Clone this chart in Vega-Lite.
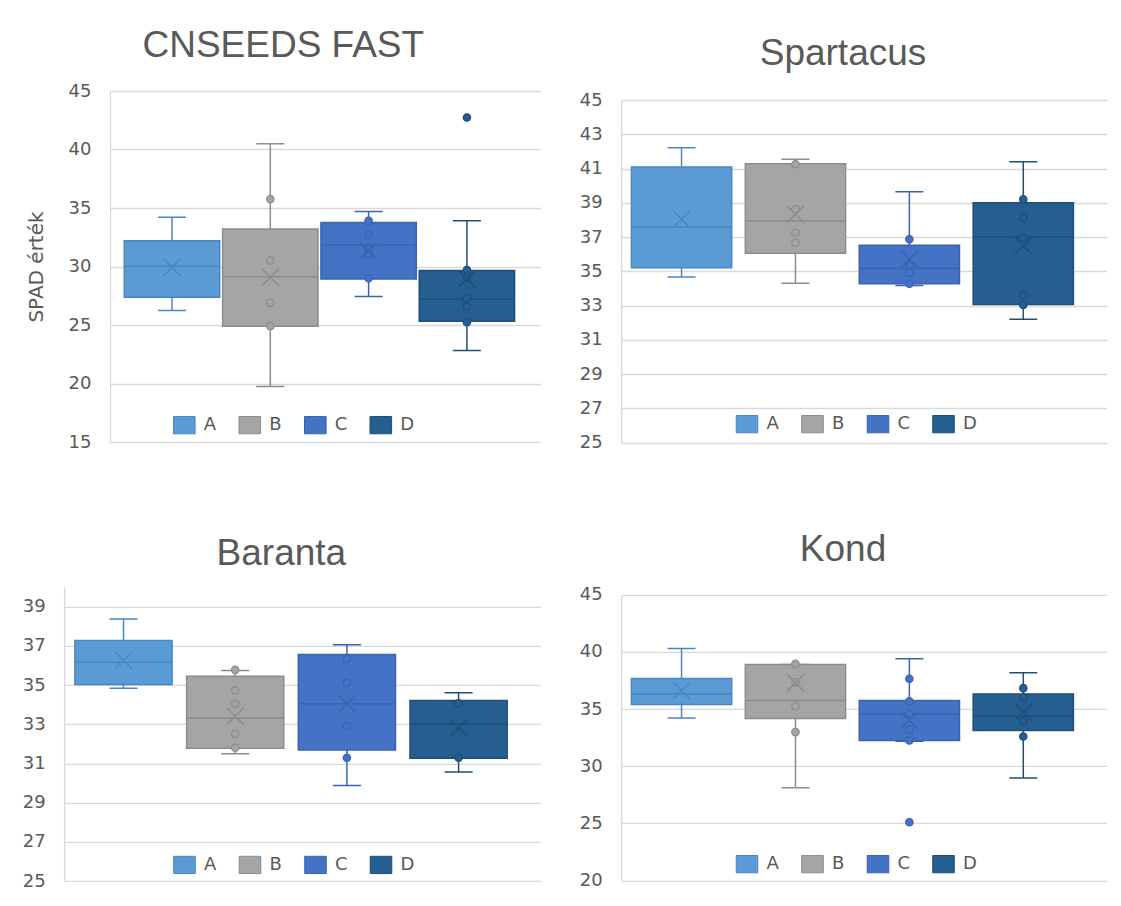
{
  "$schema": "https://vega.github.io/schema/vega-lite/v6.json",
  "padding": {"left": 22, "top": 26, "right": 5, "bottom": 5},
  "background": "white",
  "datasets": {
    "stats": [
      {"panel": "CNSEEDS FAST", "series": "A", "lo": 26.23, "q1": 27.37, "med": 30.02, "q3": 32.2, "hi": 34.2, "mean": 29.93},
      {"panel": "CNSEEDS FAST", "series": "B", "lo": 19.75, "q1": 24.9, "med": 29.13, "q3": 33.2, "hi": 40.5, "mean": 29.08},
      {"panel": "CNSEEDS FAST", "series": "C", "lo": 27.43, "q1": 28.94, "med": 31.84, "q3": 33.77, "hi": 34.71, "mean": 31.35},
      {"panel": "CNSEEDS FAST", "series": "D", "lo": 22.82, "q1": 25.32, "med": 27.23, "q3": 29.65, "hi": 33.91, "mean": 28.94},
      {"panel": "Spartacus", "series": "A", "lo": 34.67, "q1": 35.21, "med": 37.59, "q3": 41.09, "hi": 42.22, "mean": 38.04},
      {"panel": "Spartacus", "series": "B", "lo": 34.3, "q1": 36.05, "med": 37.94, "q3": 41.28, "hi": 41.54, "mean": 38.33},
      {"panel": "Spartacus", "series": "C", "lo": 34.18, "q1": 34.28, "med": 35.16, "q3": 36.52, "hi": 39.65, "mean": 35.7},
      {"panel": "Spartacus", "series": "D", "lo": 32.2, "q1": 33.07, "med": 37.0, "q3": 39.01, "hi": 41.4, "mean": 36.48},
      {"panel": "Baranta", "series": "A", "lo": 34.84, "q1": 35.02, "med": 36.16, "q3": 37.27, "hi": 38.37, "mean": 36.25},
      {"panel": "Baranta", "series": "B", "lo": 31.49, "q1": 31.78, "med": 33.31, "q3": 35.45, "hi": 35.74, "mean": 33.41},
      {"panel": "Baranta", "series": "C", "lo": 29.88, "q1": 31.69, "med": 34.04, "q3": 36.55, "hi": 37.05, "mean": 34.04},
      {"panel": "Baranta", "series": "D", "lo": 30.56, "q1": 31.27, "med": 33.02, "q3": 34.21, "hi": 34.6, "mean": 32.82},
      {"panel": "Kond", "series": "A", "lo": 34.21, "q1": 35.4, "med": 36.31, "q3": 37.68, "hi": 40.3, "mean": 36.63},
      {"panel": "Kond", "series": "B", "lo": 28.11, "q1": 34.18, "med": 35.75, "q3": 38.9, "hi": 38.9, "mean": 37.3},
      {"panel": "Kond", "series": "C", "lo": 32.19, "q1": 32.25, "med": 34.56, "q3": 35.75, "hi": 39.4, "mean": 34.0},
      {"panel": "Kond", "series": "D", "lo": 28.98, "q1": 33.13, "med": 34.38, "q3": 36.31, "hi": 38.17, "mean": 34.73}
    ],
    "pts": [
      {"panel": "CNSEEDS FAST", "series": "B", "value": 35.76},
      {"panel": "CNSEEDS FAST", "series": "B", "value": 30.5},
      {"panel": "CNSEEDS FAST", "series": "B", "value": 26.89},
      {"panel": "CNSEEDS FAST", "series": "B", "value": 24.9},
      {"panel": "CNSEEDS FAST", "series": "C", "value": 33.91},
      {"panel": "CNSEEDS FAST", "series": "C", "value": 32.69},
      {"panel": "CNSEEDS FAST", "series": "C", "value": 31.5},
      {"panel": "CNSEEDS FAST", "series": "C", "value": 31.07},
      {"panel": "CNSEEDS FAST", "series": "C", "value": 28.99},
      {"panel": "CNSEEDS FAST", "series": "D", "value": 29.7},
      {"panel": "CNSEEDS FAST", "series": "D", "value": 29.08},
      {"panel": "CNSEEDS FAST", "series": "D", "value": 27.29},
      {"panel": "CNSEEDS FAST", "series": "D", "value": 26.58},
      {"panel": "CNSEEDS FAST", "series": "D", "value": 25.24},
      {"panel": "CNSEEDS FAST", "series": "D", "value": 42.73},
      {"panel": "Spartacus", "series": "B", "value": 41.25},
      {"panel": "Spartacus", "series": "B", "value": 38.62},
      {"panel": "Spartacus", "series": "B", "value": 37.26},
      {"panel": "Spartacus", "series": "B", "value": 36.67},
      {"panel": "Spartacus", "series": "C", "value": 36.87},
      {"panel": "Spartacus", "series": "C", "value": 35.35},
      {"panel": "Spartacus", "series": "C", "value": 34.92},
      {"panel": "Spartacus", "series": "C", "value": 34.28},
      {"panel": "Spartacus", "series": "D", "value": 39.2},
      {"panel": "Spartacus", "series": "D", "value": 38.13},
      {"panel": "Spartacus", "series": "D", "value": 36.96},
      {"panel": "Spartacus", "series": "D", "value": 33.62},
      {"panel": "Spartacus", "series": "D", "value": 33.04},
      {"panel": "Baranta", "series": "B", "value": 35.77},
      {"panel": "Baranta", "series": "B", "value": 34.72},
      {"panel": "Baranta", "series": "B", "value": 34.04},
      {"panel": "Baranta", "series": "B", "value": 32.51},
      {"panel": "Baranta", "series": "B", "value": 31.8},
      {"panel": "Baranta", "series": "C", "value": 36.33},
      {"panel": "Baranta", "series": "C", "value": 35.11},
      {"panel": "Baranta", "series": "C", "value": 32.9},
      {"panel": "Baranta", "series": "C", "value": 31.29},
      {"panel": "Baranta", "series": "D", "value": 34.07},
      {"panel": "Baranta", "series": "D", "value": 31.29},
      {"panel": "Kond", "series": "B", "value": 38.96},
      {"panel": "Kond", "series": "B", "value": 37.36},
      {"panel": "Kond", "series": "B", "value": 35.23},
      {"panel": "Kond", "series": "B", "value": 32.98},
      {"panel": "Kond", "series": "C", "value": 37.65},
      {"panel": "Kond", "series": "C", "value": 35.69},
      {"panel": "Kond", "series": "C", "value": 34.59},
      {"panel": "Kond", "series": "C", "value": 33.21},
      {"panel": "Kond", "series": "C", "value": 32.25},
      {"panel": "Kond", "series": "C", "value": 25.1},
      {"panel": "Kond", "series": "D", "value": 36.83},
      {"panel": "Kond", "series": "D", "value": 36.04},
      {"panel": "Kond", "series": "D", "value": 33.94},
      {"panel": "Kond", "series": "D", "value": 32.6}
    ]
  },
  "spacing": 77.9,
  "resolve": {"scale": {"color": "independent", "stroke": "independent", "x": "independent", "y": "independent"}, "legend": {"color": "independent", "stroke": "independent"}},
  "vconcat": [
    {
      "hconcat": [
        {
          "title": {"text": "CNSEEDS FAST", "offset": 17.4},
          "width": 430.5, "height": 351,
          "encoding": {"x": {"field": "series", "type": "nominal", "axis": null, "scale": {"domain": ["A","B","C","D"], "paddingInner": 0.03, "paddingOuter": 0.2047, "align": 0.356}}},
          "layer": [
            {"data": {"name": "stats"}, "transform": [{"filter": "datum.panel === 'CNSEEDS FAST'"}],
             "mark": {"type": "bar", "width": {"band": 1}, "strokeWidth": 1.5},
             "encoding": {
               "y": {"field": "q1", "type": "quantitative", "scale": {"domain": [15, 45], "nice": false, "zero": false}, "axis": {"values": [15,20,25,30,35,40,45], "title": "SPAD érték", "titlePadding": 22}},
               "y2": {"field": "q3"},
               "color": {"field": "series", "type": "nominal", "scale": {"domain": ["A","B","C","D"], "range": ["#5B9BD5","#A5A5A5","#4472C4","#255E91"]}, "legend": {"title": null, "legendX": 62.8, "legendY": 322.2}},
               "stroke": {"field": "series", "type": "nominal", "scale": {"domain": ["A","B","C","D"], "range": ["#4A86C3","#8C8C8C","#3A64B2","#1F4E79"]}, "legend": {"title": null, "legendX": 62.8, "legendY": 322.2}}
             }},
            {"data": {"name": "stats"}, "transform": [{"filter": "datum.panel === 'CNSEEDS FAST'"}],
             "mark": {"type": "rule", "strokeWidth": 1.5},
             "encoding": {"y": {"field": "q3", "type": "quantitative", "scale": {"domain": [15, 45], "nice": false, "zero": false}, "axis": {"values": [15,20,25,30,35,40,45], "title": "SPAD érték", "titlePadding": 22}}, "y2": {"field": "hi"}, "stroke": {"field": "series", "type": "nominal"}}},
            {"data": {"name": "stats"}, "transform": [{"filter": "datum.panel === 'CNSEEDS FAST'"}],
             "mark": {"type": "rule", "strokeWidth": 1.5},
             "encoding": {"y": {"field": "lo", "type": "quantitative", "scale": {"domain": [15, 45], "nice": false, "zero": false}, "axis": {"values": [15,20,25,30,35,40,45], "title": "SPAD érték", "titlePadding": 22}}, "y2": {"field": "q1"}, "stroke": {"field": "series", "type": "nominal"}}},
            {"data": {"name": "stats"}, "transform": [{"filter": "datum.panel === 'CNSEEDS FAST'"}],
             "mark": {"type": "bar", "width": 28, "fill": "transparent", "strokeWidth": 1.5},
             "encoding": {"y": {"field": "hi", "type": "quantitative", "scale": {"domain": [15, 45], "nice": false, "zero": false}, "axis": {"values": [15,20,25,30,35,40,45], "title": "SPAD érték", "titlePadding": 22}}, "y2": {"field": "hi"}, "stroke": {"field": "series", "type": "nominal"}}},
            {"data": {"name": "stats"}, "transform": [{"filter": "datum.panel === 'CNSEEDS FAST'"}],
             "mark": {"type": "bar", "width": 28, "fill": "transparent", "strokeWidth": 1.5},
             "encoding": {"y": {"field": "lo", "type": "quantitative", "scale": {"domain": [15, 45], "nice": false, "zero": false}, "axis": {"values": [15,20,25,30,35,40,45], "title": "SPAD érték", "titlePadding": 22}}, "y2": {"field": "lo"}, "stroke": {"field": "series", "type": "nominal"}}},
            {"data": {"name": "stats"}, "transform": [{"filter": "datum.panel === 'CNSEEDS FAST'"}],
             "mark": {"type": "bar", "width": {"band": 1}, "fill": "transparent", "strokeWidth": 1.5},
             "encoding": {"y": {"field": "med", "type": "quantitative", "scale": {"domain": [15, 45], "nice": false, "zero": false}, "axis": {"values": [15,20,25,30,35,40,45], "title": "SPAD érték", "titlePadding": 22}}, "y2": {"field": "med"}, "stroke": {"field": "series", "type": "nominal"}}},
            {"data": {"name": "pts"}, "transform": [{"filter": "datum.panel === 'CNSEEDS FAST'"}],
             "mark": {"type": "point", "shape": "circle", "filled": true, "size": 55, "opacity": 1, "strokeWidth": 1.2},
             "encoding": {"y": {"field": "value", "type": "quantitative", "scale": {"domain": [15, 45], "nice": false, "zero": false}, "axis": {"values": [15,20,25,30,35,40,45], "title": "SPAD érték", "titlePadding": 22}}, "color": {"field": "series", "type": "nominal"}, "stroke": {"field": "series", "type": "nominal"}}},
            {"data": {"name": "stats"}, "transform": [{"filter": "datum.panel === 'CNSEEDS FAST'"}],
             "mark": {"type": "point", "shape": "M-1,-1L1,1M-1,1L1,-1", "filled": false, "size": 289, "opacity": 1, "strokeWidth": 1.5},
             "encoding": {"y": {"field": "mean", "type": "quantitative", "scale": {"domain": [15, 45], "nice": false, "zero": false}, "axis": {"values": [15,20,25,30,35,40,45], "title": "SPAD érték", "titlePadding": 22}}, "stroke": {"field": "series", "type": "nominal"}}}
          ]
        },
        {
          "title": {"text": "Spartacus", "offset": 18.2},
          "width": 485.5, "height": 351.7,
          "encoding": {"x": {"field": "series", "type": "nominal", "axis": null, "scale": {"domain": ["A","B","C","D"], "paddingInner": 0.12, "paddingOuter": 0.191, "align": 0.235}}},
          "layer": [
            {"data": {"name": "stats"}, "transform": [{"filter": "datum.panel === 'Spartacus'"}],
             "mark": {"type": "bar", "width": {"band": 1}, "strokeWidth": 1.5},
             "encoding": {
               "y": {"field": "q1", "type": "quantitative", "scale": {"domain": [25, 45], "range": [351.7, 9], "nice": false, "zero": false}, "axis": {"values": [25,27,29,31,33,35,37,39,41,43,45], "title": null}},
               "y2": {"field": "q3"},
               "color": {"field": "series", "type": "nominal", "scale": {"domain": ["A","B","C","D"], "range": ["#5B9BD5","#A5A5A5","#4472C4","#255E91"]}, "legend": {"title": null, "legendX": 114.3, "legendY": 321.2}},
               "stroke": {"field": "series", "type": "nominal", "scale": {"domain": ["A","B","C","D"], "range": ["#4A86C3","#8C8C8C","#3A64B2","#1F4E79"]}, "legend": {"title": null, "legendX": 114.3, "legendY": 321.2}}
             }},
            {"data": {"name": "stats"}, "transform": [{"filter": "datum.panel === 'Spartacus'"}],
             "mark": {"type": "rule", "strokeWidth": 1.5},
             "encoding": {"y": {"field": "q3", "type": "quantitative", "scale": {"domain": [25, 45], "range": [351.7, 9], "nice": false, "zero": false}, "axis": {"values": [25,27,29,31,33,35,37,39,41,43,45], "title": null}}, "y2": {"field": "hi"}, "stroke": {"field": "series", "type": "nominal"}}},
            {"data": {"name": "stats"}, "transform": [{"filter": "datum.panel === 'Spartacus'"}],
             "mark": {"type": "rule", "strokeWidth": 1.5},
             "encoding": {"y": {"field": "lo", "type": "quantitative", "scale": {"domain": [25, 45], "range": [351.7, 9], "nice": false, "zero": false}, "axis": {"values": [25,27,29,31,33,35,37,39,41,43,45], "title": null}}, "y2": {"field": "q1"}, "stroke": {"field": "series", "type": "nominal"}}},
            {"data": {"name": "stats"}, "transform": [{"filter": "datum.panel === 'Spartacus'"}],
             "mark": {"type": "bar", "width": 28, "fill": "transparent", "strokeWidth": 1.5},
             "encoding": {"y": {"field": "hi", "type": "quantitative", "scale": {"domain": [25, 45], "range": [351.7, 9], "nice": false, "zero": false}, "axis": {"values": [25,27,29,31,33,35,37,39,41,43,45], "title": null}}, "y2": {"field": "hi"}, "stroke": {"field": "series", "type": "nominal"}}},
            {"data": {"name": "stats"}, "transform": [{"filter": "datum.panel === 'Spartacus'"}],
             "mark": {"type": "bar", "width": 28, "fill": "transparent", "strokeWidth": 1.5},
             "encoding": {"y": {"field": "lo", "type": "quantitative", "scale": {"domain": [25, 45], "range": [351.7, 9], "nice": false, "zero": false}, "axis": {"values": [25,27,29,31,33,35,37,39,41,43,45], "title": null}}, "y2": {"field": "lo"}, "stroke": {"field": "series", "type": "nominal"}}},
            {"data": {"name": "stats"}, "transform": [{"filter": "datum.panel === 'Spartacus'"}],
             "mark": {"type": "bar", "width": {"band": 1}, "fill": "transparent", "strokeWidth": 1.5},
             "encoding": {"y": {"field": "med", "type": "quantitative", "scale": {"domain": [25, 45], "range": [351.7, 9], "nice": false, "zero": false}, "axis": {"values": [25,27,29,31,33,35,37,39,41,43,45], "title": null}}, "y2": {"field": "med"}, "stroke": {"field": "series", "type": "nominal"}}},
            {"data": {"name": "pts"}, "transform": [{"filter": "datum.panel === 'Spartacus'"}],
             "mark": {"type": "point", "shape": "circle", "filled": true, "size": 55, "opacity": 1, "strokeWidth": 1.2},
             "encoding": {"y": {"field": "value", "type": "quantitative", "scale": {"domain": [25, 45], "range": [351.7, 9], "nice": false, "zero": false}, "axis": {"values": [25,27,29,31,33,35,37,39,41,43,45], "title": null}}, "color": {"field": "series", "type": "nominal"}, "stroke": {"field": "series", "type": "nominal"}}},
            {"data": {"name": "stats"}, "transform": [{"filter": "datum.panel === 'Spartacus'"}],
             "mark": {"type": "point", "shape": "M-1,-1L1,1M-1,1L1,-1", "filled": false, "size": 289, "opacity": 1, "strokeWidth": 1.5},
             "encoding": {"y": {"field": "mean", "type": "quantitative", "scale": {"domain": [25, 45], "range": [351.7, 9], "nice": false, "zero": false}, "axis": {"values": [25,27,29,31,33,35,37,39,41,43,45], "title": null}}, "stroke": {"field": "series", "type": "nominal"}}}
          ]
        }
      ],
      "spacing": 38.2,
      "resolve": {"scale": {"color": "independent", "stroke": "independent", "x": "independent", "y": "independent"}, "legend": {"color": "independent", "stroke": "independent"}}
    },
    {
      "hconcat": [
        {
          "title": {"text": "Baranta", "offset": 14.4},
          "width": 430.5, "height": 294.3,
          "encoding": {"x": {"field": "series", "type": "nominal", "axis": null, "scale": {"domain": ["A","B","C","D"], "range": [-45.9, 430.5], "paddingInner": 0.13, "paddingOuter": 0.1975, "align": 0.245}}},
          "layer": [
            {"data": {"name": "stats"}, "transform": [{"filter": "datum.panel === 'Baranta'"}],
             "mark": {"type": "bar", "width": {"band": 1}, "strokeWidth": 1.5},
             "encoding": {
               "y": {"field": "q1", "type": "quantitative", "scale": {"domain": [25, 40], "nice": false, "zero": false}, "axis": {"values": [25,27,29,31,33,35,37,39], "title": null, "offset": 45.9}},
               "y2": {"field": "q3"},
               "color": {"field": "series", "type": "nominal", "scale": {"domain": ["A","B","C","D"], "range": ["#5B9BD5","#A5A5A5","#4472C4","#255E91"]}, "legend": {"title": null, "legendX": 63, "legendY": 266.1}},
               "stroke": {"field": "series", "type": "nominal", "scale": {"domain": ["A","B","C","D"], "range": ["#4A86C3","#8C8C8C","#3A64B2","#1F4E79"]}, "legend": {"title": null, "legendX": 63, "legendY": 266.1}}
             }},
            {"data": {"name": "stats"}, "transform": [{"filter": "datum.panel === 'Baranta'"}],
             "mark": {"type": "rule", "strokeWidth": 1.5},
             "encoding": {"y": {"field": "q3", "type": "quantitative", "scale": {"domain": [25, 40], "nice": false, "zero": false}, "axis": {"values": [25,27,29,31,33,35,37,39], "title": null, "offset": 45.9}}, "y2": {"field": "hi"}, "stroke": {"field": "series", "type": "nominal"}}},
            {"data": {"name": "stats"}, "transform": [{"filter": "datum.panel === 'Baranta'"}],
             "mark": {"type": "rule", "strokeWidth": 1.5},
             "encoding": {"y": {"field": "lo", "type": "quantitative", "scale": {"domain": [25, 40], "nice": false, "zero": false}, "axis": {"values": [25,27,29,31,33,35,37,39], "title": null, "offset": 45.9}}, "y2": {"field": "q1"}, "stroke": {"field": "series", "type": "nominal"}}},
            {"data": {"name": "stats"}, "transform": [{"filter": "datum.panel === 'Baranta'"}],
             "mark": {"type": "bar", "width": 28, "fill": "transparent", "strokeWidth": 1.5},
             "encoding": {"y": {"field": "hi", "type": "quantitative", "scale": {"domain": [25, 40], "nice": false, "zero": false}, "axis": {"values": [25,27,29,31,33,35,37,39], "title": null, "offset": 45.9}}, "y2": {"field": "hi"}, "stroke": {"field": "series", "type": "nominal"}}},
            {"data": {"name": "stats"}, "transform": [{"filter": "datum.panel === 'Baranta'"}],
             "mark": {"type": "bar", "width": 28, "fill": "transparent", "strokeWidth": 1.5},
             "encoding": {"y": {"field": "lo", "type": "quantitative", "scale": {"domain": [25, 40], "nice": false, "zero": false}, "axis": {"values": [25,27,29,31,33,35,37,39], "title": null, "offset": 45.9}}, "y2": {"field": "lo"}, "stroke": {"field": "series", "type": "nominal"}}},
            {"data": {"name": "stats"}, "transform": [{"filter": "datum.panel === 'Baranta'"}],
             "mark": {"type": "bar", "width": {"band": 1}, "fill": "transparent", "strokeWidth": 1.5},
             "encoding": {"y": {"field": "med", "type": "quantitative", "scale": {"domain": [25, 40], "nice": false, "zero": false}, "axis": {"values": [25,27,29,31,33,35,37,39], "title": null, "offset": 45.9}}, "y2": {"field": "med"}, "stroke": {"field": "series", "type": "nominal"}}},
            {"data": {"name": "pts"}, "transform": [{"filter": "datum.panel === 'Baranta'"}],
             "mark": {"type": "point", "shape": "circle", "filled": true, "size": 55, "opacity": 1, "strokeWidth": 1.2},
             "encoding": {"y": {"field": "value", "type": "quantitative", "scale": {"domain": [25, 40], "nice": false, "zero": false}, "axis": {"values": [25,27,29,31,33,35,37,39], "title": null, "offset": 45.9}}, "color": {"field": "series", "type": "nominal"}, "stroke": {"field": "series", "type": "nominal"}}},
            {"data": {"name": "stats"}, "transform": [{"filter": "datum.panel === 'Baranta'"}],
             "mark": {"type": "point", "shape": "M-1,-1L1,1M-1,1L1,-1", "filled": false, "size": 289, "opacity": 1, "strokeWidth": 1.5},
             "encoding": {"y": {"field": "mean", "type": "quantitative", "scale": {"domain": [25, 40], "nice": false, "zero": false}, "axis": {"values": [25,27,29,31,33,35,37,39], "title": null, "offset": 45.9}}, "stroke": {"field": "series", "type": "nominal"}}}
          ]
        },
        {
          "title": {"text": "Kond", "offset": 17},
          "width": 485.5, "height": 293.6,
          "encoding": {"x": {"field": "series", "type": "nominal", "axis": null, "scale": {"domain": ["A","B","C","D"], "paddingInner": 0.12, "paddingOuter": 0.191, "align": 0.235}}},
          "layer": [
            {"data": {"name": "stats"}, "transform": [{"filter": "datum.panel === 'Kond'"}],
             "mark": {"type": "bar", "width": {"band": 1}, "strokeWidth": 1.5},
             "encoding": {
               "y": {"field": "q1", "type": "quantitative", "scale": {"domain": [20, 45], "range": [293.6, 7.9], "nice": false, "zero": false}, "axis": {"values": [20,25,30,35,40,45], "title": null}},
               "y2": {"field": "q3"},
               "color": {"field": "series", "type": "nominal", "scale": {"domain": ["A","B","C","D"], "range": ["#5B9BD5","#A5A5A5","#4472C4","#255E91"]}, "legend": {"title": null, "legendX": 114.3, "legendY": 265.3}},
               "stroke": {"field": "series", "type": "nominal", "scale": {"domain": ["A","B","C","D"], "range": ["#4A86C3","#8C8C8C","#3A64B2","#1F4E79"]}, "legend": {"title": null, "legendX": 114.3, "legendY": 265.3}}
             }},
            {"data": {"name": "stats"}, "transform": [{"filter": "datum.panel === 'Kond'"}],
             "mark": {"type": "rule", "strokeWidth": 1.5},
             "encoding": {"y": {"field": "q3", "type": "quantitative", "scale": {"domain": [20, 45], "range": [293.6, 7.9], "nice": false, "zero": false}, "axis": {"values": [20,25,30,35,40,45], "title": null}}, "y2": {"field": "hi"}, "stroke": {"field": "series", "type": "nominal"}}},
            {"data": {"name": "stats"}, "transform": [{"filter": "datum.panel === 'Kond'"}],
             "mark": {"type": "rule", "strokeWidth": 1.5},
             "encoding": {"y": {"field": "lo", "type": "quantitative", "scale": {"domain": [20, 45], "range": [293.6, 7.9], "nice": false, "zero": false}, "axis": {"values": [20,25,30,35,40,45], "title": null}}, "y2": {"field": "q1"}, "stroke": {"field": "series", "type": "nominal"}}},
            {"data": {"name": "stats"}, "transform": [{"filter": "datum.panel === 'Kond'"}],
             "mark": {"type": "bar", "width": 28, "fill": "transparent", "strokeWidth": 1.5},
             "encoding": {"y": {"field": "hi", "type": "quantitative", "scale": {"domain": [20, 45], "range": [293.6, 7.9], "nice": false, "zero": false}, "axis": {"values": [20,25,30,35,40,45], "title": null}}, "y2": {"field": "hi"}, "stroke": {"field": "series", "type": "nominal"}}},
            {"data": {"name": "stats"}, "transform": [{"filter": "datum.panel === 'Kond'"}],
             "mark": {"type": "bar", "width": 28, "fill": "transparent", "strokeWidth": 1.5},
             "encoding": {"y": {"field": "lo", "type": "quantitative", "scale": {"domain": [20, 45], "range": [293.6, 7.9], "nice": false, "zero": false}, "axis": {"values": [20,25,30,35,40,45], "title": null}}, "y2": {"field": "lo"}, "stroke": {"field": "series", "type": "nominal"}}},
            {"data": {"name": "stats"}, "transform": [{"filter": "datum.panel === 'Kond'"}],
             "mark": {"type": "bar", "width": {"band": 1}, "fill": "transparent", "strokeWidth": 1.5},
             "encoding": {"y": {"field": "med", "type": "quantitative", "scale": {"domain": [20, 45], "range": [293.6, 7.9], "nice": false, "zero": false}, "axis": {"values": [20,25,30,35,40,45], "title": null}}, "y2": {"field": "med"}, "stroke": {"field": "series", "type": "nominal"}}},
            {"data": {"name": "pts"}, "transform": [{"filter": "datum.panel === 'Kond'"}],
             "mark": {"type": "point", "shape": "circle", "filled": true, "size": 55, "opacity": 1, "strokeWidth": 1.2},
             "encoding": {"y": {"field": "value", "type": "quantitative", "scale": {"domain": [20, 45], "range": [293.6, 7.9], "nice": false, "zero": false}, "axis": {"values": [20,25,30,35,40,45], "title": null}}, "color": {"field": "series", "type": "nominal"}, "stroke": {"field": "series", "type": "nominal"}}},
            {"data": {"name": "stats"}, "transform": [{"filter": "datum.panel === 'Kond'"}],
             "mark": {"type": "point", "shape": "M-1,-1L1,1M-1,1L1,-1", "filled": false, "size": 289, "opacity": 1, "strokeWidth": 1.5},
             "encoding": {"y": {"field": "mean", "type": "quantitative", "scale": {"domain": [20, 45], "range": [293.6, 7.9], "nice": false, "zero": false}, "axis": {"values": [20,25,30,35,40,45], "title": null}}, "stroke": {"field": "series", "type": "nominal"}}}
          ]
        }
      ],
      "spacing": 38.2,
      "resolve": {"scale": {"color": "independent", "stroke": "independent", "x": "independent", "y": "independent"}, "legend": {"color": "independent", "stroke": "independent"}}
    }
  ],
  "config": {
    "view": {"stroke": null},
    "font": "DejaVu Sans",
    "title": {"font": "Liberation Sans", "fontSize": 37, "fontWeight": "normal", "color": "#595959", "anchor": "middle", "frame": "bounds"},
    "axis": {"labelFont": "DejaVu Sans", "labelFontSize": 18, "labelColor": "#595959", "ticks": false, "tickSize": 0, "labelPadding": 19, "domainColor": "#D9D9D9", "domainWidth": 1.3, "gridColor": "#D9D9D9", "gridWidth": 1.3, "titleFont": "DejaVu Sans", "titleFontSize": 20, "titleFontWeight": "normal", "titleColor": "#595959"},
    "legend": {"orient": "none", "direction": "horizontal", "symbolType": "M-1,-0.8H1V0.8H-1Z", "symbolSize": 466, "symbolStrokeWidth": 1, "symbolOpacity": 1, "labelOffset": 8, "columnPadding": 19.5, "padding": 0, "labelFontSize": 18, "labelFont": "DejaVu Sans", "labelColor": "#595959"}
  }
}
